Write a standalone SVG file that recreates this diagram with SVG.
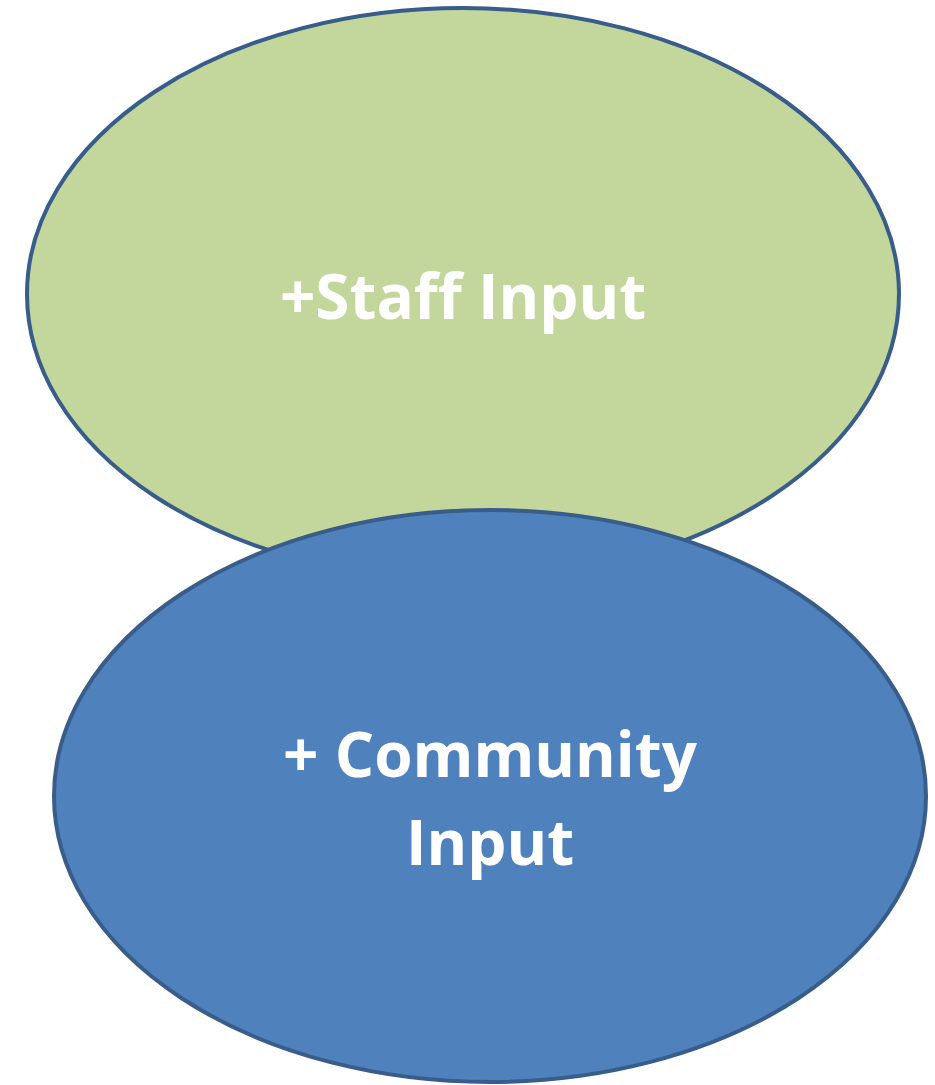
<svg xmlns="http://www.w3.org/2000/svg" width="935" height="1085" viewBox="0 0 935 1085">
<style>
.node ellipse{stroke:#385D8A;stroke-width:4}
.lbl{font-family:"Open Sans","Liberation Sans",sans-serif;font-weight:bold;font-size:62px;fill:#FFFFFF;text-anchor:middle}
</style>
<rect width="935" height="1085" fill="#FFFFFF"/>
<g id="staff" class="node">
<ellipse cx="463" cy="294" rx="436" ry="286" fill="#C3D69B"/>
<text class="lbl" x="463" y="319">+Staff Input</text>
</g>
<g id="community" class="node">
<ellipse cx="490" cy="796" rx="436" ry="286" fill="#4F81BD"/>
<text class="lbl" x="490" y="777">+ Community</text>
<text class="lbl" x="490" y="865">Input</text>
</g>
<g id="connectors"></g>
</svg>
